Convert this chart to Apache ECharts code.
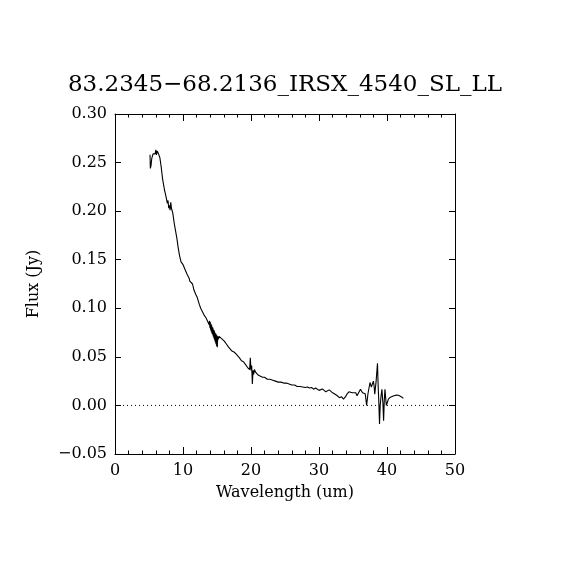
<!DOCTYPE html>
<html><head><meta charset="utf-8">
<script src="https://cdn.jsdelivr.net/npm/echarts@6/dist/echarts.min.js"></script>
<style>html,body{margin:0;padding:0;background:#fff}#c{width:570px;height:570px}</style>
</head><body><div id="c"></div>
<script>
const titleText = '83.2345\u221268.2136_IRSX_4540_SL_LL';
const xName = 'Wavelength (um)';
const yName = 'Flux (Jy)';
const wavelength = [5.15,5.2,5.3,5.4,5.5,5.6,5.7,5.8,5.9,6.0,6.1,6.2,6.3,6.4,6.6,6.8,7.0,7.2,7.3,7.4,7.5,7.6,7.7,7.8,7.9,8.0,8.1,8.2,8.3,8.4,8.5,8.7,8.9,9.1,9.3,9.5,9.7,10.0,10.3,10.6,10.9,11.0,11.2,11.4,11.6,11.9,12.1,12.4,12.6,12.9,13.1,13.4,13.6,13.8,
13.85,13.9,13.95,14.0,14.05,14.1,14.15,14.2,14.25,14.3,14.35,14.4,14.45,14.5,14.55,14.6,14.65,14.7,14.75,14.8,14.85,14.9,14.95,15.0,15.05,15.1,15.2,15.3,15.5,15.8,16.1,16.4,16.7,16.9,17.2,17.5,17.8,18.0,18.3,18.6,18.9,19.2,19.5,19.7,19.8,19.9,20.0,20.1,20.2,20.3,20.4,20.5,20.7,20.9,21.1,21.4,21.7,22.0,22.4,22.8,23.2,23.6,24.0,24.4,24.8,25.2,25.6,26.0,26.4,26.8,27.2,27.6,28.0,28.3,28.6,28.9,29.2,29.5,29.7,30.0,30.2,30.5,30.7,31.0,31.2,31.5,31.7,32.0,32.2,32.6,33.0,33.3,33.6,33.9,34.1,34.4,34.6,34.9,35.1,35.4,35.6,35.9,36.1,36.4,36.6,36.8,37.0,37.2,37.5,37.7,37.8,38.0,38.1,38.2,38.4,38.6,38.7,38.8,38.9,39.0,39.1,39.25,39.4,39.5,39.6,39.7,39.8,39.9,40.1,40.2,40.5,40.7,41.0,41.4,41.7,41.9,42.2,42.4];
const flux = [0.258,0.244,0.247,0.254,0.253,0.259,0.257,0.261,0.259,0.263,0.258,0.262,0.263,0.259,0.255,0.245,0.233,0.225,0.221,0.222,0.215,0.213,0.208,0.211,0.203,0.206,0.201,0.209,0.203,0.205,0.198,0.188,0.180,0.172,0.162,0.154,0.148,0.145,0.140,0.135,0.131,0.128,0.130,0.125,0.119,0.114,0.111,0.104,0.100,0.096,0.093,0.090,0.087,0.085,
0.083,0.087,0.080,0.086,0.078,0.084,0.076,0.083,0.074,0.081,0.073,0.080,0.071,0.078,0.069,0.077,0.067,0.075,0.065,0.074,0.063,0.073,0.061,0.072,0.060,0.071,0.068,0.071,0.070,0.068,0.066,0.063,0.060,0.058,0.056,0.055,0.053,0.052,0.049,0.046,0.045,0.042,0.039,0.040,0.037,0.049,0.036,0.041,0.022,0.036,0.032,0.037,0.034,0.033,0.031,0.030,0.029,0.029,0.027,0.027,0.026,0.025,0.024,0.024,0.023,0.023,0.022,0.021,0.021,0.0195,0.0195,0.019,0.0185,0.019,0.018,0.0185,0.0167,0.018,0.019,0.0155,0.015,0.017,0.0167,0.014,0.0133,0.016,0.015,0.013,0.0116,0.0105,0.008,0.009,0.0065,0.009,0.0116,0.014,0.015,0.013,0.0116,0.013,0.0099,0.014,0.0167,0.013,0.0116,0.012,0.0,0.012,0.0236,0.019,0.020,0.025,0.020,0.0116,0.025,0.0434,0.020,0.003,-0.019,0.0,0.008,0.0167,0.002,-0.0158,0.005,0.0167,0.008,0.0,0.004,0.0065,0.0085,0.0092,0.0100,0.0106,0.0104,0.0099,0.0085,0.0072];
const zeroLineX = [0, 50];
const zeroLineY = [0, 0];
const xMin = 0, xMax = 50, xStep = 10;
const yMin = -0.05, yMax = 0.30, yStep = 0.05;

const font = 'DejaVu Serif';
const pts = wavelength.map((w, i) => [w, flux[i]]);
const zero = zeroLineX.map((w, i) => [w, zeroLineY[i]]);
const fmtY = v => { const s = Math.abs(v).toFixed(2); return (v < -1e-9 ? '\u2212' : '') + s; };
const baseX = {
  type: 'value', min: xMin, max: xMax, interval: xStep,
  axisLine: { show: true, onZero: false, lineStyle: { color: '#000', width: 1 } },
  axisTick: { show: true, inside: true, length: 7, lineStyle: { color: '#000' } },
  minorTick: { show: true, splitNumber: 5, length: 3.5, lineStyle: { color: '#000' } },
  splitLine: { show: false }
};
const baseY = {
  type: 'value', min: yMin, max: yMax, interval: yStep,
  axisLine: { show: true, onZero: false, lineStyle: { color: '#000', width: 1 } },
  axisTick: { show: true, inside: true, length: 6, lineStyle: { color: '#000' } },
  splitLine: { show: false }
};
const chart = echarts.init(document.getElementById('c'), null, { renderer: 'canvas' });
chart.setOption({
  backgroundColor: '#fff',
  animation: false,
  title: { text: titleText, left: 'center', top: 69, textStyle: { fontFamily: font, fontSize: 23, fontWeight: 'normal', color: '#000' } },
  grid: { left: 115, right: 115, top: 114, bottom: 116 },
  xAxis: [
    Object.assign({}, baseX, { position: 'bottom', name: xName, nameLocation: 'middle', nameGap: 31,
      nameTextStyle: { fontFamily: font, fontSize: 16, color: '#000' },
      axisLabel: { show: true, margin: 9, fontFamily: font, fontSize: 16, color: '#000' } }),
    Object.assign({}, baseX, { position: 'top', axisLabel: { show: false } })
  ],
  yAxis: [
    Object.assign({}, baseY, { position: 'left', name: yName, nameLocation: 'middle', nameGap: 73, nameRotate: 90,
      nameTextStyle: { fontFamily: font, fontSize: 16, color: '#000' },
      axisLabel: { show: true, margin: 8, fontFamily: font, fontSize: 16, color: '#000', formatter: fmtY } }),
    Object.assign({}, baseY, { position: 'right', axisLabel: { show: false } })
  ],
  series: [
    { type: 'line', data: zero, xAxisIndex: 0, yAxisIndex: 0, symbol: 'none', silent: true,
      lineStyle: { color: '#000', width: 1, type: [1, 3] } },
    { type: 'line', data: pts, xAxisIndex: 0, yAxisIndex: 0, symbol: 'none',
      lineStyle: { color: '#000', width: 1.1 } }
  ]
});
</script></body></html>
